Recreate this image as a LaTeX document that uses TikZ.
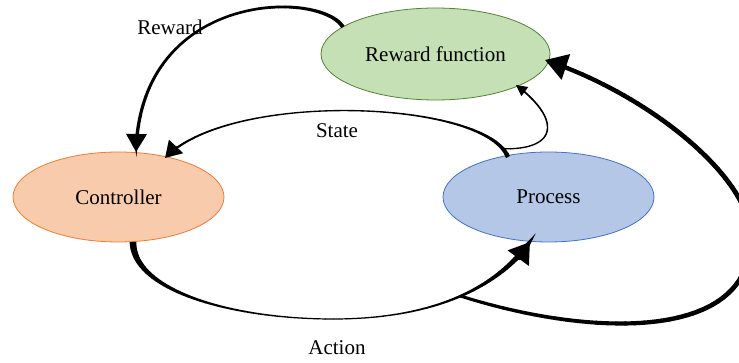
\documentclass[tikz,border=0pt]{standalone}
\usepackage{fontspec}
\setmainfont{Liberation Serif}
\usetikzlibrary{arrows.meta,shapes.geometric,calc}
\definecolor{rfFill}{HTML}{C5E0B4}
\definecolor{rfLine}{HTML}{548235}
\definecolor{ctFill}{HTML}{F8CBAD}
\definecolor{ctLine}{HTML}{ED7D31}
\definecolor{prFill}{HTML}{B4C7E7}
\definecolor{prLine}{HTML}{4472C4}
\newcommand\tapexp{2}
% tapered cubic: #1-#4 named points, #5 start width, #6 middle width, #7 end width,
% #8 time where the taper stops, #9 arrow tip spec (empty for none)
\newcommand\tapbez[9]{%
  \foreach \i in {1,...,40}{%
    \pgfmathsetmacro\tapa{(\i-1)/40*#8}%
    \pgfmathsetmacro\tapb{\i/40*#8}%
    \pgfmathsetmacro\tapm{(\i-0.5)/40*#8}%
    \pgfmathsetmacro\tapw{#6+(#5-#6)*(1-\tapm)^\tapexp+(#7-#6)*(\tapm)^\tapexp}%
    \ifnum\i=1 \pgfsetbuttcap\else\pgfsetroundcap\fi
    \pgfsetlinewidth{\tapw pt}%
    \pgfpathcurvebetweentime{\tapa}{\tapb}{\pgfpointanchor{#1}{center}}{\pgfpointanchor{#2}{center}}{\pgfpointanchor{#3}{center}}{\pgfpointanchor{#4}{center}}%
    \pgfusepath{stroke}%
  }%
  \if\relax\detokenize{#9}\relax\else
    \begin{pgfscope}%
    \pgfsetlinewidth{#7pt}%
    \pgfsetarrowsend{#9}%
    \pgfpathcurvebetweentime{#8}{1}{\pgfpointanchor{#1}{center}}{\pgfpointanchor{#2}{center}}{\pgfpointanchor{#3}{center}}{\pgfpointanchor{#4}{center}}%
    \pgfusepath{stroke}%
    \end{pgfscope}%
  \fi
}
\begin{document}
\begin{tikzpicture}[x=1pt,y=-1pt,
  font=\fontsize{21}{25}\selectfont,
  blob/.style={ellipse, inner sep=0pt, line width=0.8pt},
  lbl/.style={anchor=base, inner sep=0pt}]
\useasboundingbox (0,0) rectangle (739,363);
\fill[white] (0,0) rectangle (739,363);
\clip (0,0) rectangle (739,363);

% nodes
\node[blob, fill=rfFill, draw=rfLine, minimum width=229pt, minimum height=92pt] (rf) at (435.5,54) {Reward function};
\node[blob, fill=ctFill, draw=ctLine, minimum width=211pt, minimum height=90pt] (ctrl) at (118.5,197) {Controller};
\node[blob, fill=prFill, draw=prLine, minimum width=211pt, minimum height=90pt] (proc) at (548.5,197) {Process};

% labels
\node[lbl] (lr) at (170,35) {Reward};
\node[lbl] (ls) at (337,138) {State};
\node[lbl] (la) at (337,354) {Action};

% Reward connector
\coordinate (r0) at ($(rf.center)+(-92.5,-27)$);
\coordinate (r1) at (320,-10);
\coordinate (r2) at (140,-10);
\coordinate (r3) at ($(ctrl.center)+(17.5,-45)$);
\renewcommand\tapexp{3}
\tapbez{r0}{r1}{r2}{r3}{4}{2.2}{3.5}{0.965}{Triangle[length=18pt,width=20pt]}

% State connector
\coordinate (s0) at ($(proc.center)+(-40.5,-40)$);
\coordinate (s1) at (485,100);
\coordinate (s2) at (230,90);
\coordinate (s3) at ($(ctrl.center)+(46.5,-39)$);
\path (s0) .. controls (s1) and (s2) .. (s3) coordinate[pos=0.05] (br);
\renewcommand\tapexp{5}
\tapbez{s0}{s1}{s2}{s3}{4.5}{1.2}{2.6}{0.955}{Triangle[length=16pt,width=19pt]}

% branch from State to Reward function
\coordinate (b1) at (560,150);
\coordinate (b2) at (560,118);
\coordinate (b3) at ($(rf.center)+(80.5,31)$);
\renewcommand\tapexp{2}
\tapbez{br}{b1}{b2}{b3}{1.3}{1.3}{1.8}{0.95}{Triangle[length=11pt,width=11pt]}

% Action connector
\coordinate (a0) at ($(ctrl.center)+(14.5,45)$);
\coordinate (a1) at (133,290);
\coordinate (a2) at (230,319);
\coordinate (am) at (333,319);
\coordinate (a4) at (430,319);
\coordinate (a5) at (495,290);
\coordinate (a6) at ($(proc.center)+(-18.5,45)$);
\path (am) .. controls (a4) and (a5) .. (a6) coordinate[pos=0.53] (g0);
\tapbez{a0}{a1}{a2}{am}{6.8}{1.2}{1.2}{1}{}
\tapbez{am}{a4}{a5}{a6}{1.2}{1.2}{6}{0.92}{Triangle[length=20pt,width=25pt]}

% feedback connector from Action to Reward function
\coordinate (g1) at (600,340);
\coordinate (g2) at (760,340);
\coordinate (g3) at (750,230);
\coordinate (g4) at (745,175);
\coordinate (g5) at (650,95);
\coordinate (g6) at ($(rf.center)+(109.5,6)$);
\tapbez{g0}{g1}{g2}{g3}{3}{4.8}{4.8}{1}{}
\tapbez{g3}{g4}{g5}{g6}{4.8}{4.8}{4.2}{0.952}{Triangle[length=22pt,width=26pt]}
\end{tikzpicture}
\end{document}
